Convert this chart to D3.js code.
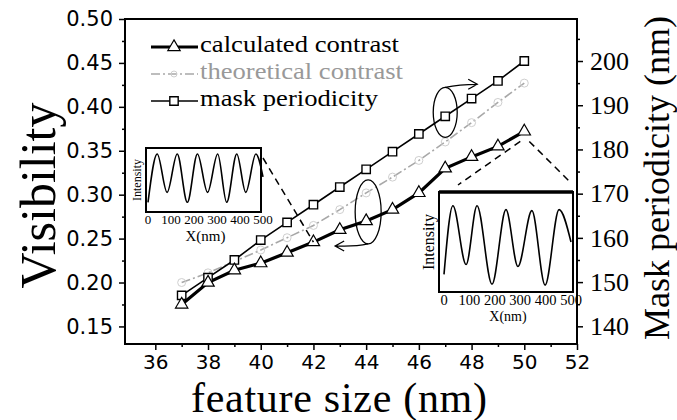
<!DOCTYPE html>
<html><head><meta charset="utf-8">
<script src="https://cdn.jsdelivr.net/npm/d3@7"></script>
<style>body{margin:0;background:#fff} svg{display:block}</style>
</head><body>
<svg id="c" width="677" height="420"></svg>
<script>
// ---- data ----
const featureSize = [37,38,39,40,41,42,43,44,45,46,47,48,49,50];
const calcContrast = [0.175,0.200,0.214,0.222,0.234,0.246,0.260,0.270,0.283,0.302,0.330,0.343,0.355,0.372];
const theoContrast = [0.200,0.211,0.224,0.237,0.251,0.265,0.283,0.302,0.320,0.339,0.360,0.382,0.405,0.427];
const maskPeriod = [147,151,155,159.5,163.5,167.5,171.5,175.5,179.5,183.5,187.5,191.5,195.5,200];
const xTicks = [36,38,40,42,44,46,48,50,52];
const xMinor = [37,39,41,43,45,47,49,51];
const visTicks = [0.15,0.20,0.25,0.30,0.35,0.40,0.45,0.50];
const visMinor = [0.175,0.225,0.275,0.325,0.375,0.425,0.475];
const periodTicks = [140,150,160,170,180,190,200];
const periodMinor = [145,155,165,175,185,195,205];
const legendLabels = ["calculated contrast","theoretical contrast","mask periodicity"];
// inset intensity profiles (extrema)
const leftInsetX = [0,40,83,127,171,215,259,303,342,386,425,469,500];
const leftInsetI = [0.14,0.92,0.30,0.92,0.14,0.92,0.30,0.92,0.14,0.92,0.30,0.92,0.55];
const rightInsetX = [0,35,87,130,189,244,291,346,398,453,500];
const rightInsetI = [0.17,0.87,0.27,0.87,0.07,0.83,0.25,0.82,0.06,0.83,0.50];
const insetTicks = [0,100,200,300,400,500];

const serif = "'Liberation Serif','Times New Roman',serif";
const sans = "'DejaVu Sans',sans-serif";
const M = {left:125,right:577,top:19,bottom:344};
const svg = d3.select('#c');

const x = d3.scaleLinear().domain([34.85,52]).range([M.left,M.right]);
const yL = d3.scaleLinear().domain([0.13,0.50]).range([M.bottom,M.top]);
const yR = d3.scaleLinear().domain([136,209.5]).range([M.bottom,M.top]);

// axes
function styleAxis(g, font, size){
  g.select('.domain').remove();
  g.selectAll('line').attr('stroke','#000').attr('stroke-width',1.5);
  g.selectAll('text').attr('font-family',font).attr('font-size',size).attr('fill','#000');
}
svg.append('g').attr('transform',`translate(${M.left},0)`)
  .call(d3.axisLeft(yL).tickValues(visTicks).tickFormat(d3.format('.2f')).tickSize(6).tickPadding(6).tickSizeOuter(0))
  .call(g=>styleAxis(g,sans,21));
svg.append('g').attr('transform',`translate(${M.left},0)`)
  .call(d3.axisLeft(yL).tickValues(visMinor).tickFormat('').tickSize(3).tickSizeOuter(0))
  .call(g=>styleAxis(g,sans,21));
svg.append('g').attr('transform',`translate(${M.right},0)`)
  .call(d3.axisRight(yR).tickValues(periodTicks).tickSize(6).tickPadding(7).tickSizeOuter(0))
  .call(g=>styleAxis(g,serif,26));
svg.append('g').attr('transform',`translate(${M.right},0)`)
  .call(d3.axisRight(yR).tickValues(periodMinor.filter(v=>v<209)).tickFormat('').tickSize(3).tickSizeOuter(0))
  .call(g=>styleAxis(g,serif,26));
svg.append('g').attr('transform',`translate(0,${M.bottom})`)
  .call(d3.axisBottom(x).tickValues(xTicks).tickSize(6).tickPadding(5).tickSizeOuter(0))
  .call(g=>styleAxis(g,sans,20));
svg.append('g').attr('transform',`translate(0,${M.bottom})`)
  .call(d3.axisBottom(x).tickValues(xMinor).tickFormat('').tickSize(3).tickSizeOuter(0))
  .call(g=>styleAxis(g,sans,20));

// frame
svg.append('rect').attr('x',M.left).attr('y',M.top).attr('width',M.right-M.left).attr('height',M.bottom-M.top)
  .attr('fill','none').attr('stroke','#000').attr('stroke-width',2);

// axis titles
svg.append('text').attr('transform',`translate(55,${(M.top+M.bottom)/2+14}) rotate(-90)`)
  .attr('text-anchor','middle').attr('font-family',serif).attr('font-size',50).text('Visibility');
svg.append('text').attr('x',339).attr('y',411.5).attr('text-anchor','middle')
  .attr('font-family',serif).attr('font-size',42).attr('textLength',296).attr('lengthAdjust','spacing')
  .text('feature size (nm)');
svg.append('text').attr('transform',`translate(669,178) rotate(-90)`)
  .attr('text-anchor','middle').attr('font-family',serif).attr('font-size',36).text('Mask periodicity (nm)');

// series
const idx = d3.range(featureSize.length);
const theoLine = d3.line().x(i=>x(featureSize[i])).y(i=>yL(theoContrast[i]));
const calcLine = d3.line().x(i=>x(featureSize[i])).y(i=>yL(calcContrast[i]));
const maskLine = d3.line().x(i=>x(featureSize[i])).y(i=>yR(maskPeriod[i]));

svg.append('path').attr('d',theoLine(idx)).attr('fill','none').attr('stroke','#a8a8a8')
  .attr('stroke-width',1.6).attr('stroke-dasharray','9,3,2,3');
svg.append('g').selectAll('circle').data(idx).join('circle')
  .attr('cx',i=>x(featureSize[i])).attr('cy',i=>yL(theoContrast[i])).attr('r',4)
  .attr('fill','none').attr('stroke','#cfcfcf').attr('stroke-width',1);
svg.append('path').attr('d',maskLine(idx)).attr('fill','none').attr('stroke','#000').attr('stroke-width',1.6);
svg.append('path').attr('d',calcLine(idx)).attr('fill','none').attr('stroke','#000').attr('stroke-width',3.2);

const tri = d3.symbol().type(d3.symbolTriangle).size(66);
const sq = d3.symbol().type(d3.symbolSquare).size(70);
svg.append('g').selectAll('path').data(idx).join('path')
  .attr('d',sq).attr('transform',i=>`translate(${x(featureSize[i])},${yR(maskPeriod[i])})`)
  .attr('fill','#fff').attr('stroke','#000').attr('stroke-width',1.4);
svg.append('g').selectAll('path').data(idx).join('path')
  .attr('d',tri).attr('transform',i=>`translate(${x(featureSize[i])},${yL(calcContrast[i])})`)
  .attr('fill','#fff').attr('stroke','#000').attr('stroke-width',1.2);

// legend
const lg = svg.append('g');
const legendWidths = [199,203,178];
legendLabels.forEach((lab,k)=>{
  const by = 52 + k*27, ly = by-5;
  const col = k===1 ? '#999' : '#000';
  lg.append('line').attr('x1',151).attr('x2',198).attr('y1',ly).attr('y2',ly)
    .attr('stroke', k===1?'#a8a8a8':'#000').attr('stroke-width', k===0?3:1.6)
    .attr('stroke-dasharray', k===1?'9,3,2,3':null);
  if(k===0) lg.append('path').attr('d',tri).attr('transform',`translate(174,${ly})`).attr('fill','#fff').attr('stroke','#000').attr('stroke-width',1.2);
  if(k===1) lg.append('circle').attr('cx',174).attr('cy',ly).attr('r',3).attr('fill','none').attr('stroke','#cfcfcf');
  if(k===2) lg.append('path').attr('d',sq).attr('transform',`translate(174,${ly})`).attr('fill','#fff').attr('stroke','#000').attr('stroke-width',1.4);
  lg.append('text').attr('x',200).attr('y',by).attr('font-family',serif).attr('font-size',24)
    .attr('textLength',legendWidths[k]).attr('lengthAdjust','spacingAndGlyphs')
    .attr('fill',col).text(lab);
});

// annotations: ellipses + arrows
const e1x = x(featureSize[10]), e1y = yR(maskPeriod[10]) - 4;
svg.append('ellipse').attr('cx',e1x).attr('cy',e1y).attr('rx',12).attr('ry',25)
  .attr('fill','none').attr('stroke','#000').attr('stroke-width',1.3);
const a1 = [e1x+32, e1y-28];
svg.append('path').attr('d',`M${e1x},${e1y-25} Q${e1x+14},${e1y-28} ${a1[0]},${a1[1]} M${a1[0]-9},${a1[1]-5} L${a1[0]},${a1[1]} L${a1[0]-9},${a1[1]+5}`)
  .attr('fill','none').attr('stroke','#000').attr('stroke-width',1.3);
const e2x = x(featureSize[7])+2, e2y = (yL(calcContrast[7])+yL(theoContrast[7]))/2 + 5;
svg.append('ellipse').attr('cx',e2x).attr('cy',e2y).attr('rx',13).attr('ry',32)
  .attr('fill','none').attr('stroke','#000').attr('stroke-width',1.3);
const a2 = [e2x-33, e2y+34];
svg.append('path').attr('d',`M${e2x},${e2y+32} Q${e2x-14},${e2y+35} ${a2[0]},${a2[1]} M${a2[0]+9},${a2[1]-5} L${a2[0]},${a2[1]} L${a2[0]+9},${a2[1]+5}`)
  .attr('fill','none').attr('stroke','#000').attr('stroke-width',1.3);

// insets
function inset(box, xr, xs, is, o){
  const g = svg.append('g');
  const ix = d3.scaleLinear().domain([0,500]).range(xr);
  const iy = d3.scaleLinear().domain([0,1]).range([box.b-1, box.t+1]);
  g.append('rect').attr('x',box.l).attr('y',box.t).attr('width',box.r-box.l).attr('height',box.b-box.t)
    .attr('fill','#fff').attr('stroke','#000').attr('stroke-width',2);
  g.append('line').attr('x1',box.l).attr('x2',box.r).attr('y1',box.t).attr('y2',box.t).attr('stroke','#000').attr('stroke-width',o.topW);
  g.append('path').attr('d', d3.line().curve(d3.curveMonotoneX).x(i=>ix(xs[i])).y(i=>iy(is[i]))(d3.range(xs.length)))
    .attr('fill','none').attr('stroke','#000').attr('stroke-width',1.6);
  g.selectAll('text.t').data(insetTicks).join('text').attr('class','t')
    .attr('x',d=>ix(d)).attr('y',box.b+o.labDy).attr('text-anchor','middle')
    .attr('font-family',serif).attr('font-size',o.labSize).text(d=>d);
  g.append('text').attr('x',(box.l+box.r)/2+2).attr('y',box.b+o.xlabDy)
    .attr('text-anchor','middle').attr('font-family',serif).attr('font-size',o.xlabSize).text('X(nm)');
  g.append('text').attr('transform',`translate(${box.l-5},${(box.t+box.b)/2}) rotate(-90)`)
    .attr('text-anchor','middle').attr('font-family',serif).attr('font-size',o.intSize).text('Intensity');
  return g;
}
const lBox = {l:146,r:261,t:148,b:212};
const rBox = {l:439,r:573,t:192,b:292};
// dashed callout lines
svg.append('line').attr('x1',lBox.r+2).attr('y1',lBox.t+10).attr('x2',x(featureSize[5])).attr('y2',yL(calcContrast[5]))
  .attr('stroke','#000').attr('stroke-width',1.5).attr('stroke-dasharray','7,5');
const apx = x(featureSize[13]), apy = yL(calcContrast[13]) + 10;
svg.append('line').attr('x1',apx-4).attr('y1',apy).attr('x2',rBox.l+19).attr('y2',rBox.t-7)
  .attr('stroke','#000').attr('stroke-width',1.5).attr('stroke-dasharray','7,5');
svg.append('line').attr('x1',apx+5).attr('y1',apy).attr('x2',rBox.r-3).attr('y2',rBox.t-10)
  .attr('stroke','#000').attr('stroke-width',1.5).attr('stroke-dasharray','7,5');

inset(lBox, [148,263], leftInsetX, leftInsetI, {labSize:13, labDy:11.5, xlabSize:15, xlabDy:28.5, intSize:12, topW:2});
inset(rBox, [444,571], rightInsetX, rightInsetI, {labSize:14.5, labDy:12.5, xlabSize:14, xlabDy:28.5, intSize:16, topW:3.5});
</script>
</body></html>
